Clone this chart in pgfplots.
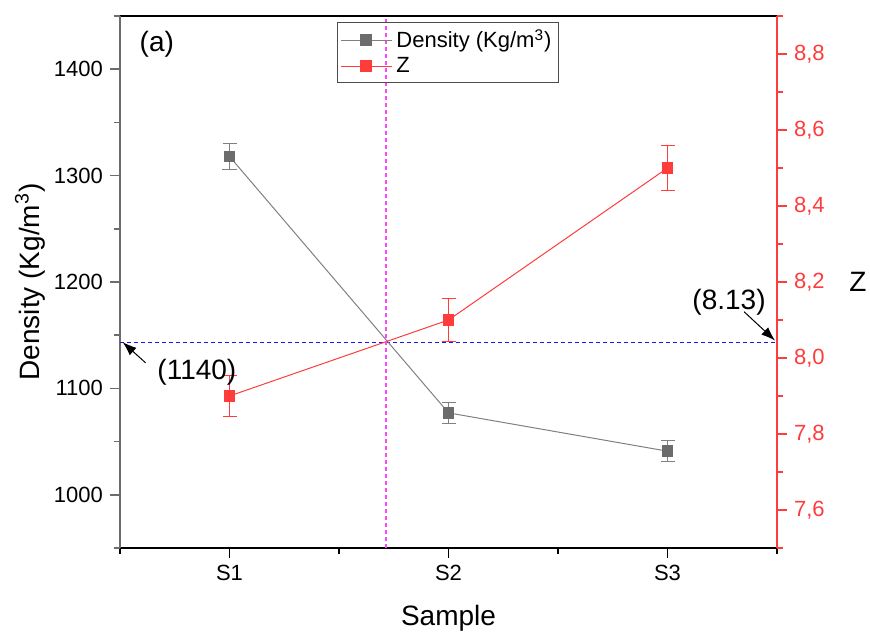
\documentclass[border=0pt]{standalone}
\usepackage{fontspec}
\setmainfont{Liberation Sans}
\usepackage{pgfplots}
\pgfplotsset{compat=1.18}
\usetikzlibrary{arrows.meta}

\definecolor{dgray}{RGB}{108,108,108}
\definecolor{lgray}{RGB}{128,128,128}
\definecolor{zred}{RGB}{255,60,60}
\definecolor{vmag}{RGB}{255,70,255}
\definecolor{hblue}{RGB}{20,20,255}

\pgfplotsset{
  base/.style={
    scale only axis, width=328.5pt, height=266pt,
    xmin=0.5, xmax=3.5,
    tick align=outside,
    major tick length=5pt, minor tick length=3pt,
    /pgf/number format/assume math mode=true,
    ticklabel style={font=\fontsize{11}{13}\selectfont},
    label style={font=\fontsize{14}{16}\selectfont},
  },
}

\begin{document}
\begin{tikzpicture}
\useasboundingbox (-60pt,-42.5pt) rectangle (375pt,274pt);

% left axis: density
\begin{axis}[base,
  ymin=950, ymax=1450,
  axis x line*=box, axis y line*=left,
  xtick={1,2,3}, xticklabels={S1,S2,S3},
  minor xtick={0.5,1.5,2.5,3.5},
  xtick pos=left,
  ytick={1000,1100,1200,1300,1400},
  minor ytick={950,1050,1150,1250,1350,1450},
  yticklabel style={/pgf/number format/set thousands separator={}},
  x axis line style={line width=1pt, black},
  y axis line style={line width=1pt, dgray},
  every x tick/.append style={black, line width=0.8pt},
  every y tick/.append style={dgray, line width=0.8pt},
  xlabel={Sample}, ylabel={Density (Kg/m\textsuperscript{3})},
  xlabel style={at={(rel axis cs:0.5,-0.132)}, anchor=center},
  ylabel style={at={(rel axis cs:-0.137,0.5)}, anchor=center},
]
\addplot[hblue, line width=0.5pt, dash pattern=on 2pt off 1.5pt] coordinates {(0.5,1143) (3.5,1143)};
\addplot[lgray, line width=0.5pt, mark=square*, mark size=2.7pt,
  mark options={fill=dgray, draw=dgray},
  error bars/.cd, y dir=both, y explicit,
  error bar style={lgray, line width=0.5pt},
  error mark options={rotate=90, mark size=3.5pt, lgray, line width=0.5pt}]
  coordinates {(1,1318) +- (0,12) (2,1077) +- (0,10) (3,1041) +- (0,10)};
\end{axis}

% right axis: Z
\begin{axis}[base,
  ymin=7.5, ymax=8.9,
  axis x line=none, axis y line*=right,
  ytick={7.6,7.8,8.0,8.2,8.4,8.6,8.8},
  minor ytick={7.5,7.7,7.9,8.1,8.3,8.5,8.7,8.9},
  y axis line style={line width=1pt, zred},
  every y tick/.append style={zred, line width=0.8pt},
  yticklabel style={zred, /pgf/number format/.cd, use comma, fixed, fixed zerofill, precision=1},
  ylabel={Z},
  every axis y label/.style={at={(rel axis cs:1.123,0.5)}, anchor=center, font=\fontsize{14}{16}\selectfont},
  legend image code/.code={\draw[mark repeat=2,mark phase=2,#1] plot coordinates {(0cm,0cm) (0.45cm,0cm) (0.9cm,0cm)};},
  legend style={at={(0.33,0.989)}, anchor=north west, draw=black!70, fill=none,
    font=\fontsize{11}{13}\selectfont, inner sep=1.5pt, row sep=-1pt},
  legend cell align=left,
]
\addlegendimage{lgray, line width=0.5pt, mark=square*, mark size=2.7pt, mark options={fill=dgray, draw=dgray}}
\addlegendentry{Density (Kg/m\textsuperscript{3})}
\addplot[zred, line width=0.5pt, mark=square*, mark size=2.7pt,
  mark options={fill=zred, draw=zred},
  error bars/.cd, y dir=both, y explicit,
  error bar style={zred, line width=0.5pt},
  error mark options={rotate=90, mark size=3.5pt, zred, line width=0.5pt}]
  coordinates {(1,7.90) +- (0,0.055) (2,8.10) +- (0,0.057) (3,8.50) +- (0,0.06)};
\addlegendentry{Z}
\addplot[color=vmag, line width=0.7pt, dash pattern=on 2pt off 1.5pt, forget plot] coordinates {(1.714,7.5) (1.714,8.9)};

\node[font=\fontsize{14}{16}\selectfont] at (rel axis cs:0.056,0.947) {(a)};
\node[font=\fontsize{14}{16}\selectfont] at (rel axis cs:0.117,0.33) {(1140)};
\draw[-{Latex[length=7pt,width=5pt]}, line width=0.5pt] (rel axis cs:0.039,0.348) -- (rel axis cs:0.004,0.387);
\node[font=\fontsize{14}{16}\selectfont] at (rel axis cs:0.927,0.462) {(8.13)};
\draw[-{Latex[length=7pt,width=5pt]}, line width=0.5pt] (rel axis cs:0.950,0.444) -- (rel axis cs:0.997,0.390);
\end{axis}
\end{tikzpicture}
\end{document}
